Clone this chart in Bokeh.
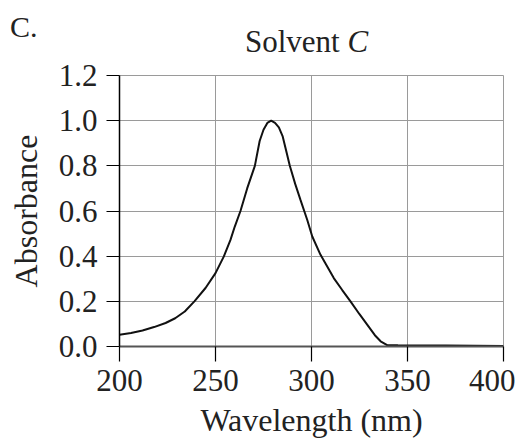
from bokeh.plotting import figure
from bokeh.layouts import column
from bokeh.models import Range1d, FixedTicker, CustomJSTickFormatter, Div
from bokeh.embed import file_html
from bokeh.resources import INLINE

wavelength = [200, 206, 212, 218, 224, 229, 234, 239, 244.8, 250, 254.3, 257.8, 260, 263, 266.5,
              270.5, 273, 275, 277, 279, 281, 283, 285, 287, 288.7, 291.5, 294.3, 297.8, 300.4,
              304.7, 311.6, 316, 320.3, 325, 329, 333, 336, 339.4, 345, 370, 400]
absorbance = [0.052, 0.060, 0.071, 0.086, 0.104, 0.125, 0.155, 0.20, 0.259, 0.325, 0.398, 0.472,
              0.53, 0.60, 0.70, 0.80, 0.91, 0.96, 0.99, 1.0, 0.99, 0.97, 0.93, 0.86, 0.80, 0.72,
              0.648, 0.56, 0.487, 0.406, 0.303, 0.25, 0.20, 0.143, 0.097, 0.05, 0.023, 0.006,
              0.005, 0.004, 0.002]
x_ticks = [200, 250, 300, 350, 400]
y_ticks = [0.0, 0.2, 0.4, 0.6, 0.8, 1.0, 1.2]
panel_label = "C."
title_text = "Solvent"
title_italic = "C"

FONT = "Liberation Serif"
TXT = "#222222"
W = 515
TITLE_H = 58

# --- title strip as HTML text ---
html = (
    f'<div style="position:relative;width:{W}px;height:{TITLE_H}px;font-family:\'{FONT}\';'
    f'color:{TXT};line-height:1;white-space:nowrap;">'
    f'<span style="position:absolute;left:10px;top:12px;font-size:30px;">{panel_label}</span>'
    f'<span style="position:absolute;left:245px;top:26px;font-size:31px;">{title_text} '
    f'<i>{title_italic}</i></span>'
    '</div>'
)
t = Div(text=html, width=W, height=TITLE_H, margin=0)

# --- main plot ---
p = figure(width=W, height=440 - TITLE_H, output_backend="svg", toolbar_location=None,
           x_range=Range1d(200, 400), y_range=Range1d(0, 1.2),
           min_border_left=119, min_border_right=12, min_border_top=75 - TITLE_H,
           min_border_bottom=93)
p.outline_line_color = "#9a9a9a"
p.outline_line_width = 1

p.line(wavelength, absorbance, line_color="#111111", line_width=2)

p.xaxis.ticker = FixedTicker(ticks=x_ticks)
p.yaxis.ticker = FixedTicker(ticks=y_ticks)
p.yaxis.formatter = CustomJSTickFormatter(code="return tick.toFixed(1);")
p.xaxis.formatter = CustomJSTickFormatter(code="return tick.toFixed(0);")

for ax in (p.xaxis, p.yaxis):
    ax.axis_line_color = "black"
    ax.axis_line_width = 1.5
    ax.major_tick_line_color = "black"
    ax.major_tick_line_width = 1.2
    ax.major_tick_in = 0
    ax.minor_tick_line_color = None
    ax.major_label_text_font = FONT
    ax.major_label_text_font_size = "31px"
    ax.major_label_text_color = TXT
    ax.axis_label_text_font = FONT
    ax.axis_label_text_font_size = "32px"
    ax.axis_label_text_font_style = "normal"
    ax.axis_label_text_color = TXT

p.xaxis.axis_line_color = "#555555"
p.xaxis.axis_line_width = 2
p.xaxis.major_tick_out = 15
p.yaxis.major_tick_out = 13
p.xaxis.major_label_standoff = 8
p.yaxis.major_label_standoff = 9
p.xaxis.axis_label = "Wavelength (nm)"
p.yaxis.axis_label = "Absorbance"
p.xaxis.axis_label_standoff = 8
p.yaxis.axis_label_standoff = 12

p.grid.grid_line_color = "#9a9a9a"
p.grid.grid_line_width = 1
p.grid.grid_line_alpha = 1

layout = column(t, p, spacing=0)
open("out.html", "w").write(file_html(layout, INLINE))
